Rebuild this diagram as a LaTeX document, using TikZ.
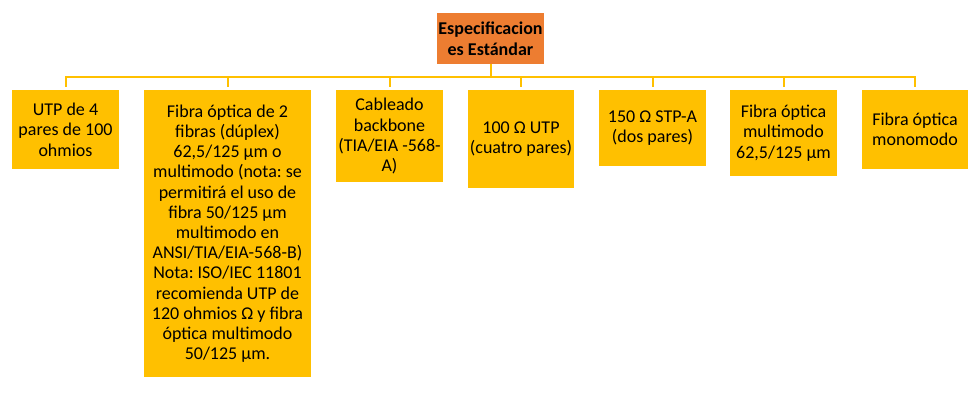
\documentclass[tikz,border=0pt]{standalone}
\usepackage{fontspec}
\setmainfont{Carlito}
\frenchspacing
\definecolor{specyellow}{HTML}{FFC000}
\definecolor{specorange}{HTML}{ED7D31}
\tikzset{
	spec/.style={fill=specyellow, anchor=north, align=center, inner sep=0pt,
		minimum width=107pt, font=\fontsize{18}{20.2}\selectfont},
	head/.style={fill=specorange, align=center, inner sep=0pt,
		minimum width=107pt, minimum height=51pt, font=\bfseries\fontsize{18}{21}\selectfont},
	bus/.style={draw=specyellow, line width=2pt}
}
\begin{document}
\begin{tikzpicture}[x=1pt,y=-1pt]
	
	\useasboundingbox (0,0) rectangle (978,403);
	
	\node[head] (top) at (490.5,38.5) {Especificacion\\es Estándar};
	\coordinate (hub) at (490.5,77);
	
	\node[spec, minimum height=79pt] (b1) at (65.5,90) {UTP de 4\\pares de 100\\ohmios};
	\node[spec, minimum width=167pt, minimum height=287pt] (b2) at (227.5,90) {Fibra óptica de 2\\fibras (dúplex)\\62,5/125 µm o\\multimodo (nota: se\\permitirá el uso de\\fibra 50/125 µm\\multimodo en\\ANSI/TIA/EIA-568-B)\\Nota: ISO/IEC 11801\\recomienda UTP de\\120 ohmios Ω y fibra\\óptica multimodo\\50/125 µm.};
	\node[spec, minimum height=92pt] (b3) at (389.5,90) {Cableado\\backbone\\(TIA/EIA -568-\\A)};
	\node[spec, minimum width=106pt, minimum height=98pt] (b4) at (521,90) {100 Ω UTP\\(cuatro pares)};
	\node[spec, minimum height=76pt] (b5) at (652.5,90) {150 Ω STP-A\\(dos pares)};
	\node[spec, minimum height=86pt] (b6) at (783.5,90) {Fibra óptica\\multimodo\\62,5/125 µm};
	\node[spec, minimum width=106pt, minimum height=79pt] (b7) at (915,90) {Fibra óptica\\monomodo};
	
	\draw[bus] (top.south) -- (hub);
	\foreach \b in {b1,b2,b3,b4,b5,b6,b7}
		\draw[bus, shorten <=3pt] (\b.north) |- (hub);
	
\end{tikzpicture}
\end{document}
